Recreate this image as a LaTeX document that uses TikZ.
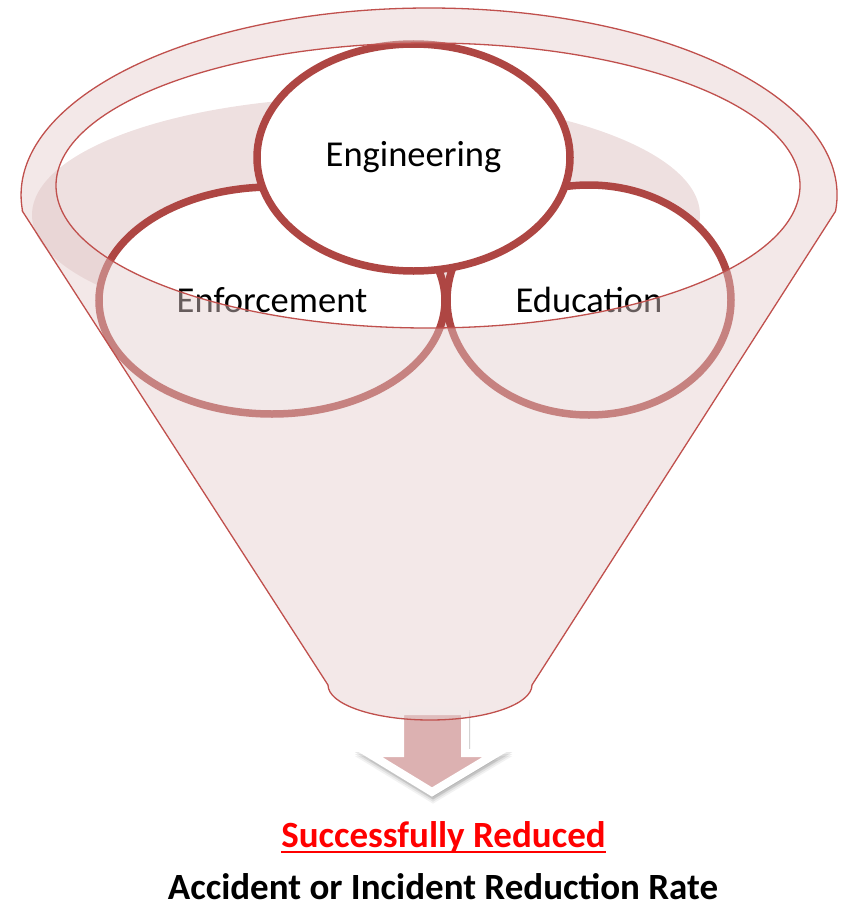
\documentclass[tikz,border=0pt]{standalone}
\usepackage{fontspec}
\setmainfont{Carlito}
\usetikzlibrary{shapes.geometric,shadows}
\definecolor{funline}{RGB}{192,80,77}
\definecolor{ringdark}{RGB}{174,70,67}
\definecolor{frontfill}{RGB}{228,204,204}
\definecolor{backshade}{RGB}{238,224,224}
\definecolor{arrowpink}{RGB}{220,177,177}
\tikzset{
  ring/.style={ellipse, draw=ringdark, line width=7.5pt, fill=white, inner sep=0pt,
    font=\fontsize{36.5}{40}\selectfont,
    drop shadow={shadow xshift=1.5pt, shadow yshift=-3pt, opacity=0.18, fill=black}},
  front/.style={fill=frontfill, fill opacity=0.45, draw=funline, line width=1.3pt, even odd rule},
  caption/.style={inner sep=0pt, font=\fontsize{37}{40}\selectfont\bfseries},
  arrowshade/.style={fill=black, draw=black, line width=8pt, line join=miter}
}
\begin{document}
\begin{tikzpicture}[x=1pt,y=-1pt]
\useasboundingbox (0,0) rectangle (844,907);
% back shading inside the funnel mouth
\fill[backshade] (366,215) ellipse [x radius=334, y radius=118];
% rings
\node[ring, minimum width=346pt, minimum height=227pt] (enf) at (272,300.5) {Enforcement};
\node[ring, minimum width=284pt, minimum height=230pt] (edu) at (589,300) {Education};
\node[ring, minimum width=313pt, minimum height=227pt] (eng) at (413.5,157.5) {Engineering};
% arrow shadow layers
\foreach \dy/\op in {3/0.09, 5/0.07, 7/0.05}{
  \path[arrowshade, opacity=\op, shift={(1,\dy)}]
    (400,711) -- (465,711) -- (465,753) -- (497,753) -- (432,792) -- (368,753) -- (400,753) -- cycle;
}
% arrow
\path[fill=arrowpink, draw=white, line width=8pt, line join=miter]
  (400,711) -- (465,711) -- (465,753) -- (497,753) -- (432,792) -- (368,753) -- (400,753) -- cycle;
% funnel front face
\coordinate (fl) at (22.5,211.3);
\coordinate (fr) at (835.5,211.3);
\coordinate (bl) at (328,685);
\path[front]
  (fl) -- (bl) arc[start angle=180, end angle=0, x radius=102, y radius=35]
  -- (fr) arc[start angle=5, end angle=-185, x radius=408, y radius=187] -- cycle
  (428,185.5) ellipse [x radius=372, y radius=142.5];
% captions
\node[caption, text=red] (sr) at (443.5,837) {Successfully Reduced};
\draw[red, line width=2pt] ([yshift=-5pt]sr.base west) -- ([yshift=-5pt]sr.base east);
\node[caption, anchor=base, text=black] (rate) at (443,899) {Accident or Incident Reduction Rate};
\end{tikzpicture}
\end{document}
